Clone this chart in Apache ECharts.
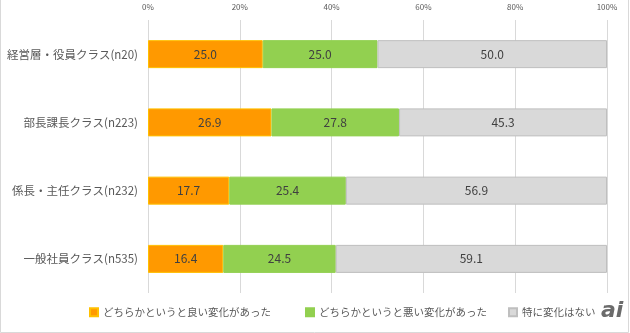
<!DOCTYPE html>
<html><head><meta charset="utf-8">
<script src="https://cdn.jsdelivr.net/npm/echarts@6/dist/echarts.min.js"></script>
<style>html,body{margin:0;padding:0;background:#fff}#c{width:630px;height:333px}</style>
</head><body><div id="c"></div>
<script>
const categories = ['経営層・役員クラス(n20)', '部長課長クラス(n223)', '係長・主任クラス(n232)', '一般社員クラス(n535)'];
const seriesNames = ['どちらかというと良い変化があった', 'どちらかというと悪い変化があった', '特に変化はない'];
const goodValues = [25.0, 26.9, 17.7, 16.4];
const badValues = [25.0, 27.8, 25.4, 24.5];
const noneValues = [50.0, 45.3, 56.9, 59.1];
const xTicks = [0, 20, 40, 60, 80, 100];

const chart = echarts.init(document.getElementById('c'), null, {renderer: 'canvas'});
const font = '"Noto Sans CJK JP", "Noto Sans", sans-serif';
const colors = ['#FF9900', '#92D050', '#D9D9D9'];
const borders = ['#FFC000', '#92D050', '#BFBFBF'];
const vals = [goodValues, badValues, noneValues];
const legendLeft = [84, 300, 503];

chart.setOption({
  animation: false,
  textStyle: {fontFamily: font},
  grid: {left: 148, right: 23, top: 20, bottom: 40, containLabel: false},
  xAxis: {
    type: 'value', position: 'top', min: 0, max: 100, interval: 20,
    axisLine: {show: false}, axisTick: {show: false},
    splitLine: {lineStyle: {color: '#D9D9D9', width: 1}},
    axisLabel: {formatter: v => xTicks.includes(v) ? v + '%' : '', color: '#595959', fontSize: 8, margin: 9}
  },
  yAxis: {
    type: 'category', data: categories, inverse: true,
    axisLine: {show: false}, axisTick: {show: false},
    axisLabel: {color: '#595959', fontSize: 11.5, margin: 10}
  },
  legend: seriesNames.map((n, i) => ({
    data: [n], left: legendLeft[i], top: 302, itemWidth: 8, itemHeight: 8, icon: 'rect',
    textStyle: {color: '#595959', fontSize: 10.5, fontFamily: font}, itemGap: 4
  })),
  series: seriesNames.map((n, i) => ({
    name: n, type: 'bar', stack: 'all', data: vals[i], barWidth: 28,
    itemStyle: {color: colors[i], borderColor: borders[i], borderWidth: 1},
    label: {show: true, position: 'inside', formatter: p => p.value.toFixed(1), color: '#404040', fontSize: 12}
  })),
  graphic: [
    {type: 'polyline', shape: {points: [[0.5, 0], [0.5, 332.5], [628.5, 332.5], [628.5, 0]]}, style: {stroke: '#D9D9D9', fill: null, lineWidth: 1}},
    {type: 'text', left: 601, top: 300, style: {text: 'ai', font: 'italic bold 22px "DejaVu Sans", sans-serif', fill: '#6b6b6b'}}
  ]
});
</script></body></html>
